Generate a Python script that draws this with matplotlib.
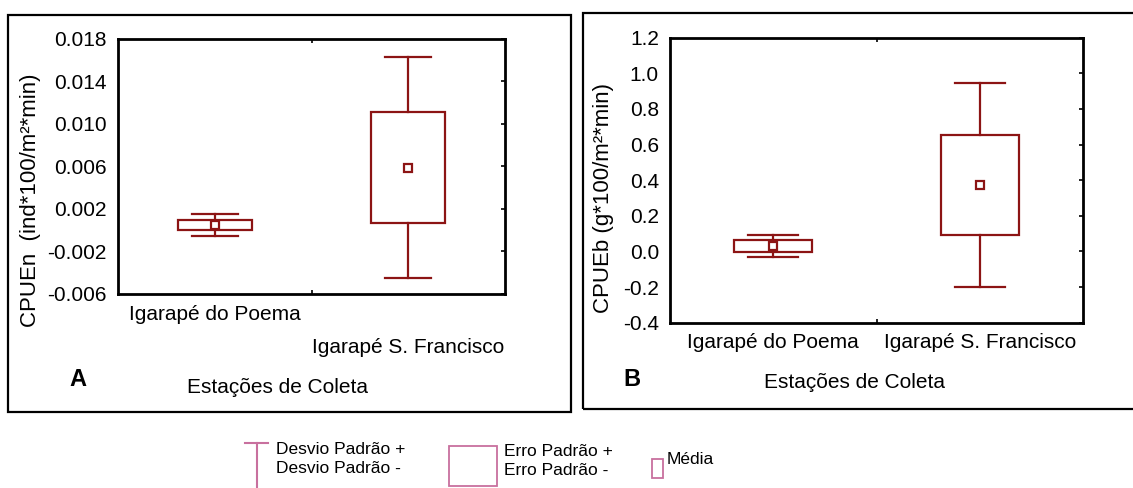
"""
CPUE by sampling station (Igarapé do Poema vs Igarapé S. Francisco).

Two panels: numeric CPUE (A) and biomass CPUE (B). Each station is drawn as
mean (square), mean +/- standard error (box) and mean +/- standard deviation
(whiskers), in the style of a Statistica box plot.
"""

import matplotlib
matplotlib.use('Agg')
import matplotlib.pyplot as plt
from matplotlib.patches import Rectangle
from matplotlib.lines import Line2D
from matplotlib.transforms import blended_transform_factory

plt.rcParams['font.family'] = ['Liberation Sans', 'DejaVu Sans']

stations = ['Igarapé do Poema', 'Igarapé S. Francisco']

# Panel A: CPUEn (ind*100/m²*min)
cpuen_mean = [0.0005, 0.0059]
cpuen_se = [0.0005, 0.0052]
cpuen_sd = [0.0010, 0.0104]
cpuen_ticks = [-0.006, -0.002, 0.002, 0.006, 0.010, 0.014, 0.018]

# Panel B: CPUEb (g*100/m²*min)
cpueb_mean = [0.030, 0.373]
cpueb_se = [0.035, 0.282]
cpueb_sd = [0.062, 0.575]
cpueb_ticks = [-0.4, -0.2, 0.0, 0.2, 0.4, 0.6, 0.8, 1.0, 1.2]

legend_labels = ['Desvio Padrão +\nDesvio Padrão -', 'Erro Padrão +\nErro Padrão -', 'Média']

BOX_COLOR = '#8c1414'
LEG_COLOR = '#c8709e'
W, H = 1133, 488


def px(x, y):
    # pixel position (from top-left) -> figure fraction
    return x / W, 1 - y / H


def draw_panel(ax, means, ses, sds, yticks, fmt):
    xs = range(len(means))
    for x, m, se, sd in zip(xs, means, ses, sds):
        # whiskers: mean +/- SD
        ax.plot([x, x], [m + se, m + sd], color=BOX_COLOR, lw=1.6, zorder=2)
        ax.plot([x, x], [m - se, m - sd], color=BOX_COLOR, lw=1.6, zorder=2)
        ax.plot([x - 0.12, x + 0.12], [m + sd, m + sd], color=BOX_COLOR, lw=1.6, zorder=2)
        ax.plot([x - 0.12, x + 0.12], [m - sd, m - sd], color=BOX_COLOR, lw=1.6, zorder=2)
        # box: mean +/- SE
        ax.add_patch(Rectangle((x - 0.19, m - se), 0.38, 2 * se, fill=False,
                               edgecolor=BOX_COLOR, lw=1.6, zorder=3))
        # mean
        ax.plot(x, m, marker='s', ms=5.5, mfc='white', mec=BOX_COLOR, mew=1.6, zorder=4)

    ax.set_xlim(-0.5, len(means) - 0.5)
    ax.set_ylim(yticks[0], yticks[-1])
    ax.set_yticks(yticks)
    ax.set_yticklabels([fmt.format(t) for t in yticks], fontsize=15)
    ax.tick_params(axis='y', direction='in', left=False, right=True, length=3, width=1.2, pad=8)
    ax.set_xticks([])
    ax.set_xticks([0.5], minor=True)
    ax.tick_params(axis='x', which='minor', direction='in', top=True, bottom=True,
                   length=3, width=1.2, labelbottom=False)
    for s in ax.spines.values():
        s.set_linewidth(2)


fig = plt.figure(figsize=(W / 100, H / 100), dpi=100)

# outer frames around each panel
for x0, y0, x1, y1 in [(8, 15, 571, 412), (583, 13, 1140, 409)]:
    fx0, fy0 = px(x0, y1)
    fx1, fy1 = px(x1, y0)
    fig.patches.append(Rectangle((fx0, fy0), fx1 - fx0, fy1 - fy0, fill=False,
                                 edgecolor='black', lw=1.6, transform=fig.transFigure))

# Panel A
l, b = px(118, 294)
axA = fig.add_axes([l, b, 387 / W, 255 / H])
draw_panel(axA, cpuen_mean, cpuen_se, cpuen_sd, cpuen_ticks, '{:.3f}')
trA = blended_transform_factory(axA.transData, axA.transAxes)
axA.text(0, -0.082, stations[0], transform=trA, ha='center', va='center', fontsize=15)
axA.text(1, -0.208, stations[1], transform=trA, ha='center', va='center', fontsize=15)
axA.text(0.411, -0.365, 'Estações de Coleta', transform=axA.transAxes,
         ha='center', va='center', fontsize=15)
axA.text(-0.103, -0.337, 'A', transform=axA.transAxes, ha='center', va='center',
         fontsize=17, fontweight='bold')
axA.text(-0.227, 0.369, 'CPUEn  (ind*100/m²*min)', transform=axA.transAxes,
         rotation=90, ha='center', va='center', fontsize=16)

# Panel B
l, b = px(670, 322.7)
axB = fig.add_axes([l, b, 413 / W, 285 / H])
draw_panel(axB, cpueb_mean, cpueb_se, cpueb_sd, cpueb_ticks, '{:.1f}')
trB = blended_transform_factory(axB.transData, axB.transAxes)
for i, name in enumerate(stations):
    axB.text(i, -0.071, name, transform=trB, ha='center', va='center', fontsize=15)
axB.text(0.446, -0.211, 'Estações de Coleta', transform=axB.transAxes,
         ha='center', va='center', fontsize=15)
axB.text(-0.092, -0.201, 'B', transform=axB.transAxes, ha='center', va='center',
         fontsize=17, fontweight='bold')
axB.text(-0.162, 0.4375, 'CPUEb (g*100/m²*min)', transform=axB.transAxes,
         rotation=90, ha='center', va='center', fontsize=16)

# Legend key drawn along the bottom of the figure
tf = fig.transFigure
xa, ya = px(245, 443)
xb, _ = px(268, 443)
xv, yv = px(257, 488)
fig.lines.append(Line2D([xa, xb], [ya, ya], color=LEG_COLOR, lw=1.5, transform=tf))
fig.lines.append(Line2D([xv, xv], [ya, yv], color=LEG_COLOR, lw=1.5, transform=tf))
fig.text(*px(276, 459), legend_labels[0], ha='left', va='center', fontsize=12.5,
         linespacing=1.3)

x0, y0 = px(449, 486)
x1, y1 = px(497, 446)
fig.patches.append(Rectangle((x0, y0), x1 - x0, y1 - y0, fill=False,
                             edgecolor=LEG_COLOR, lw=1.3, transform=tf))
fig.text(*px(504, 461), legend_labels[1], ha='left', va='center', fontsize=12.5,
         linespacing=1.3)

x0, y0 = px(652, 478)
x1, y1 = px(663, 459)
fig.patches.append(Rectangle((x0, y0), x1 - x0, y1 - y0, fill=False,
                             edgecolor=LEG_COLOR, lw=1.3, transform=tf))
fig.text(*px(667, 460), legend_labels[2], ha='left', va='center', fontsize=12.5)

fig.savefig('out.png', dpi=100)
